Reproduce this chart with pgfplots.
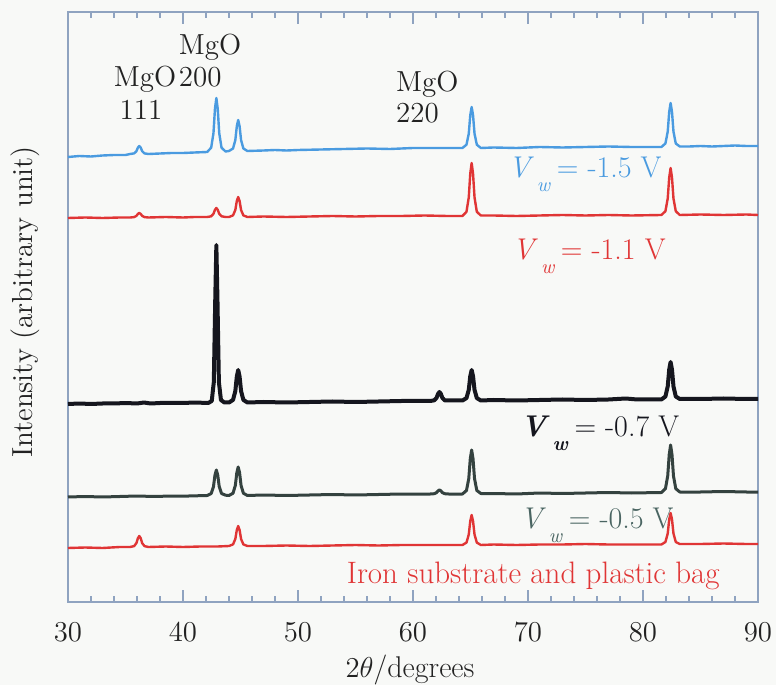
\documentclass[border=0pt]{standalone}
\usepackage{fontspec}
\usepackage{pgfplots}
\pgfplotsset{compat=1.18}
\usetikzlibrary{calc,backgrounds}
\definecolor{cblue}{HTML}{4A9BE0}
\definecolor{cred}{HTML}{E03535}
\definecolor{cblack}{HTML}{15161E}
\definecolor{cgreen}{HTML}{34423F}
\definecolor{lgreen}{HTML}{4A6562}
\definecolor{framecol}{HTML}{8FA3C0}
\definecolor{txtcol}{HTML}{222222}
\definecolor{bgcol}{HTML}{F8F9F7}
\newcommand{\Vw}[1]{\textit{V}\hspace{1.5pt}\raisebox{-7pt}{\fontsize{10}{10}\selectfont\textit{w}}\hspace{3pt}= -#1 V}
\newcommand{\Vwb}[1]{\textbf{\textit{V}}\hspace{1.5pt}\raisebox{-7pt}{\fontsize{10}{10}\selectfont\textbf{\textit{w}}}\hspace{3pt}= -#1 V}
\begin{document}
\begin{tikzpicture}
\begin{axis}[
  scale only axis, width=345pt, height=295pt,
  xmin=30, xmax=90, ymin=0, ymax=590,
  ytick=\empty,
  xtick={30,40,...,90}, minor x tick num=4,
  tick align=inside, xtick pos=both, xticklabel pos=lower,
  major tick length=6pt, minor tick length=3pt,
  axis line style={framecol, line width=0.7pt},
  tick style={framecol, line width=0.6pt},
  ticklabel style={font=\fontsize{15}{15}\selectfont, text=txtcol},
  xticklabel style={yshift=-7pt},
  clip=false, no markers
]
\coordinate (bl) at (rel axis cs:0,0);
\coordinate (tr) at (rel axis cs:1,1);
% blue -1.5 V
\addplot[cblue, line width=1.2pt, line join=round] coordinates {
(30,445)(31,446)(32,445.5)(33,446.5)(34,447)(35,447)
(35.4,448)(35.75,448.6)(35.95,450.8)(36.08,454.4)(36.2,456)(36.32,454.4)(36.45,450.8)(36.65,448.6)(37.0,448)
(38,448.5)(39,449)(40,449)(41,449.5)(42.1,450)
(42.45,454.3)(42.65,468.9)(42.78,493.2)(42.9,504)(43.02,493.2)(43.15,468.9)(43.35,454.3)(43.7,450.5)
(44.0,451)(44.35,453.5)(44.55,461.9)(44.68,475.8)(44.8,482)(44.92,475.8)(45.05,461.9)(45.25,453.5)(45.6,451)
(47,451.5)(48,452)(49,451.5)(50,452)(52,452.5)(54,453)(56,453.5)(58,453)(60,454)(62,454)(64.3,454)
(64.65,457.3)(64.85,468.4)(64.98,486.8)(65.1,495)(65.22,486.8)(65.35,468.4)(65.55,457.3)(65.9,454)
(67,454.5)(69,454)(71,455)(73,454.5)(75,455)(77,455.5)(79,455)(81.6,455)
(81.95,458.5)(82.15,470.4)(82.28,490.2)(82.4,499)(82.52,490.2)(82.65,470.4)(82.85,458.5)(83.2,455.5)
(84,455.5)(85,456)(86,455.5)(87,456)(88,456.5)(89,456)(90,456)
};
% red -1.1 V
\addplot[cred, line width=1.2pt, line join=round] coordinates {
(30,384)(31.5,384.5)(33,384)(34.5,384.5)(35.4,384.5)
(35.75,384.9)(35.95,386.1)(36.08,388.1)(36.2,389)(36.32,388.1)(36.45,386.1)(36.65,384.9)(37.0,384.5)
(38.5,385)(40,384.5)(41,385)(42.1,385)
(42.45,385.7)(42.65,388.2)(42.78,392.2)(42.9,394)(43.02,392.2)(43.15,388.2)(43.35,385.7)(43.7,385)
(44.0,385)(44.35,386.6)(44.55,392)(44.68,401)(44.8,405)(44.92,401)(45.05,392)(45.25,386.6)(45.6,385)
(47,385.5)(49,385)(51,385.5)(53,386)(55,385.5)(57,386)(59,386)(61,386.5)(63,386)(64.3,386)
(64.65,390.2)(64.85,404.6)(64.98,428.4)(65.1,439)(65.22,428.4)(65.35,404.6)(65.55,390.2)(65.9,386.5)
(67,386.5)(69,386)(71,386.5)(73,387)(75,386.5)(77,387)(79,386.5)(81.6,387)
(81.95,390.8)(82.15,403.5)(82.28,424.6)(82.4,434)(82.52,424.6)(82.65,403.5)(82.85,390.8)(83.2,387)
(85,387.5)(87,387)(89,387.5)(90,387)
};
% black -0.7 V
\addplot[cblack, line width=2pt, line join=round] coordinates {
(30,198)(31,198.5)(32,198)(33,198.5)(34,198.5)(35,199)(36,198.5)(36.6,199.5)(37.2,198.5)(38,199)(39,199)(40,199)(41,199.5)(42.2,199)
(42.5,201)(42.68,220)(42.8,300)(42.9,357)(43.0,300)(43.12,220)(43.3,202)(43.6,199.5)
(44.0,199.5)(44.35,202.1)(44.55,210.9)(44.68,225.5)(44.8,232)(44.92,225.5)(45.05,210.9)(45.25,202.1)(45.6,199.5)
(47,200)(49,199.5)(51,200)(53,200.5)(55,200)(57,200.5)(59,201)(61.5,201)
(61.85,201.7)(62.05,204.2)(62.18,208.2)(62.3,210)(62.42,208.2)(62.55,204.2)(62.75,201.7)(63.1,201.5)
(64.3,201.5)(64.65,203.9)(64.85,212.2)(64.98,225.9)(65.1,232)(65.22,225.9)(65.35,212.2)(65.55,203.9)(65.9,201.5)
(67,202)(69,201.5)(71,202)(73,202.5)(75,202)(77,202.5)(78.5,203.5)(79.5,202.5)(81.6,202.5)
(81.95,205.5)(82.15,215.6)(82.28,232.5)(82.4,240)(82.52,232.5)(82.65,215.6)(82.85,205.5)(83.2,203)
(85,203)(87,203.5)(89,203)(90,203)
};
% dark green -0.5 V
\addplot[cgreen, line width=1.5pt, line join=round] coordinates {
(30,105)(31.5,105.5)(33,105)(34.5,105.5)(36,106)(37.5,105.5)(39,106)(40.5,106)(42.1,106.5)
(42.45,108.5)(42.65,115.4)(42.78,126.9)(42.9,132)(43.02,126.9)(43.15,115.4)(43.35,108.5)(43.7,106.8)
(44.0,106.5)(44.35,108.8)(44.55,116.5)(44.68,129.3)(44.8,135)(44.92,129.3)(45.05,116.5)(45.25,108.8)(45.6,106.5)
(47,107)(49,106.5)(51,107)(53,107.5)(55,107)(57,107.5)(59,108)(61.5,108)
(61.85,108.3)(62.05,109.4)(62.18,111.2)(62.3,112)(62.42,111.2)(62.55,109.4)(62.75,108.3)(63.1,108)
(64.3,108)(64.65,111.5)(64.85,123.4)(64.98,143.2)(65.1,152)(65.22,143.2)(65.35,123.4)(65.55,111.5)(65.9,108.5)
(67,108.5)(69,108)(71,109)(73,108.5)(75,109)(77,109.5)(79,109)(81.6,109.5)
(81.95,113.3)(82.15,126.1)(82.28,147.5)(82.4,157)(82.52,147.5)(82.65,126.1)(82.85,113.3)(83.2,110)
(85,110)(87,110.5)(89,110)(90,110)
};
% red bottom: iron substrate and plastic bag
\addplot[cred, line width=1.2pt, line join=round] coordinates {
(30,54)(31.5,54.5)(33,54)(34.5,55)(35.4,55)
(35.75,55.9)(35.95,58.9)(36.08,63.8)(36.2,66)(36.32,63.8)(36.45,58.9)(36.65,55.9)(37,55)
(38.5,55.5)(40,55)(41.5,55.5)(43,55.5)(44.0,56)
(44.35,57.6)(44.55,63)(44.68,72)(44.8,76)(44.92,72)(45.05,63)(45.25,57.6)(45.6,56)
(47,56)(49,56.5)(51,56)(53,56.5)(55,57)(57,56.5)(59,57)(61,57)(63,57)(64.3,57)
(64.65,59.4)(64.85,67.5)(64.98,81)(65.1,87)(65.22,81)(65.35,67.5)(65.55,59.4)(65.9,57)
(67,57.5)(69,57)(71,57.5)(73,57.5)(75,58)(77,57.5)(79,57.5)(81.6,57.5)
(81.95,60)(82.15,68.5)(82.28,82.7)(82.4,89)(82.52,82.7)(82.65,68.5)(82.85,60)(83.2,58)
(85,58)(87,58.5)(89,58)(90,58)
};
% peak labels
\begin{scope}[every node/.style={font=\fontsize{14.5}{14.5}\selectfont, text=txtcol, inner sep=0pt}]
\node[anchor=base] at (axis cs:42.35,547) {MgO};
\node[anchor=base] at (axis cs:41.5,515) {200};
\node[anchor=base] at (axis cs:36.7,515) {MgO};
\node[anchor=base] at (axis cs:36.35,482) {111};
\node[anchor=base west] at (axis cs:58.5,510) {MgO};
\node[anchor=base west] at (axis cs:58.5,479) {220};
\end{scope}
\begin{scope}[every node/.style={font=\fontsize{15}{15}\selectfont, inner sep=0pt, anchor=base west}]
\node[text=cblue] at (axis cs:68.26,424) {\Vw{1.5}};
\node[text=cred] at (axis cs:68.61,342) {\Vw{1.1}};
\node[text=cblack] at (axis cs:69.3,165) {\Vwb{0.7}};
\node[text=lgreen] at (axis cs:69.3,74) {\Vw{0.5}};
\node[text=cred, anchor=base east, font=\fontsize{15.5}{15.5}\selectfont] at (axis cs:86.7,19) {Iron substrate and plastic bag};
\end{scope}
\end{axis}
\node[rotate=90, font=\fontsize{14.5}{14.5}\selectfont, text=txtcol, inner sep=0pt] at ($(bl)+(-21.5pt,150pt)$) {Intensity (arbitrary unit)};
\node[anchor=base, font=\fontsize{15}{15}\selectfont, text=txtcol, inner sep=0pt] at ($(bl)+(171pt,-37.5pt)$) {$2\theta$/degrees};
\pgfresetboundingbox
\path ($(bl)+(-34pt,-41.5pt)$) rectangle ($(tr)+(9pt,6pt)$);
\begin{scope}[on background layer]
\fill[bgcol] ($(bl)+(-34pt,-41.5pt)$) rectangle ($(tr)+(9pt,6pt)$);
\end{scope}
\end{tikzpicture}
\end{document}
